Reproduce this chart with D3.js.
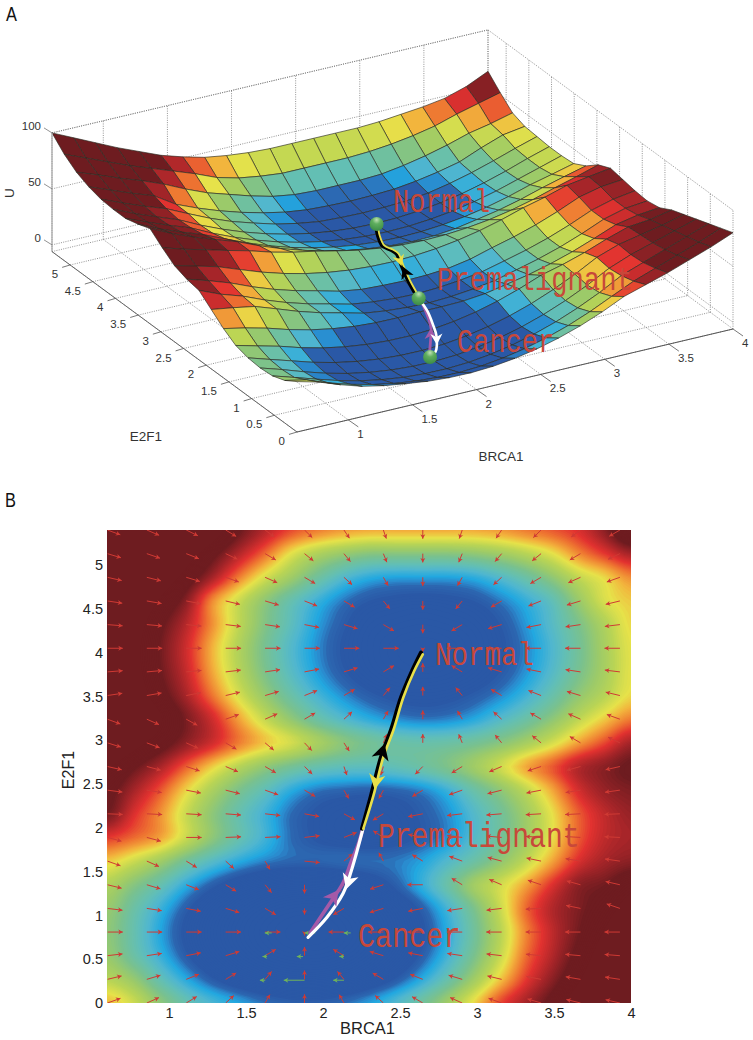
<!DOCTYPE html>
<html><head><meta charset="utf-8">
<script src="https://cdn.jsdelivr.net/npm/d3@7"></script>
<style>html,body{margin:0;padding:0;background:#fff}svg{display:block}text{font-family:"Liberation Sans",Arial,sans-serif}</style>
</head><body><svg id="c" width="753" height="1040" viewBox="0 0 753 1040"></svg>
<script>
// ---------- data ----------
const brca1Grid=[0.6,0.77,0.94,1.11,1.28,1.45,1.62,1.79,1.96,2.13,2.3,2.47,2.64,2.81,2.98,3.15,3.32,3.49,3.66,3.83,4];
const e2f1Grid=[0,0.27,0.54,0.81,1.08,1.35,1.62,1.89,2.16,2.43,2.7,2.97,3.24,3.51,3.78,4.05,4.32,4.59,4.86,5.13,5.4];
// U[row for e2f1Grid][column for brca1Grid]
const U=[
[39,34,27,21,17,14.2,11.7,10.4,10.2,11.3,13.8,17.6,22.7,29.1,36.9,46,52,58,65,72,80],
[32,27.8,20.6,14.7,9.9,6.3,3.8,2.5,2.3,3.4,5.9,9.7,14.8,21.2,29,38.1,47,54,61,68,76],
[28,22,15.9,10,5.2,1.6,-0.9,-2.2,-2.4,-1.3,1.2,5,10.1,16.5,24.3,33.4,43.9,51,58,65,72],
[27,21,14.4,8.5,3.7,0.1,-2.4,-3.7,-3.9,-2.8,-0.3,3.5,8.6,15,22.8,31.9,42.4,50,56,62,68],
[28,22,16.1,10.2,5.4,1.8,-0.7,-2,-2.2,-1.1,1.4,5.2,10.3,16.7,24.5,33.6,44.1,51,55,59,64],
[31,26,21.1,15.2,10.4,6.8,4.3,3,2.8,3.9,6.4,10.2,15.3,21.7,29.2,34.3,40.4,47.7,54,56,60],
[38,34,29.2,23.3,18.5,14.9,12.4,11.1,10.9,11.5,11.5,12,14,17.8,21.8,26.9,33,40.3,48,52,54],
[47,44,40.5,33.8,26.9,21.1,16.4,11.5,9,7.5,7,8,10,13,18,23.1,29.2,36.5,44.8,50,52],
[56,48,41.7,33.7,26.8,21,16.3,11.5,9,7.5,7,8,10,13,17.9,23,29.1,36.4,44.7,50,53],
[58,52,45.4,37.4,30.5,24.7,20,15,12,11,10.5,11,12.5,16,21.6,26.7,32.8,40.1,48.4,53,55],
[62,57,51.8,44.7,37.8,32,27.3,23.7,21.2,19.8,19.4,20.2,22,24.9,28.9,34,40.1,45,50.9,54,57],
[70,64,58.9,53.7,48.8,43,38.3,34.7,30.3,26.4,23.6,21.9,21.3,21.8,23.4,26,29.8,34.7,40.6,46,52],
[79,70,62.2,55.4,48.9,40.7,33.5,27.4,22,18,15,13,12,12.5,14.5,18.1,21.9,26.8,32.7,38,43],
[75,66,58.6,51.8,43.4,35.2,28,21.9,16.9,13,10.2,8.5,7.9,8.4,10,12.6,16.4,21.3,27.2,32,37],
[72,64,56.6,49.7,40.3,32.1,24.9,18.8,13.8,9.9,7.1,5.4,4.8,5.3,6.9,9.5,13.3,18.2,24.1,30,36],
[72,63.6,56.1,48.9,39.5,31.3,24.1,18,13,9.1,6.3,4.6,4,4.5,6.1,8.7,12.5,17.4,23.3,30,36],
[73,65,57.5,50.7,41.7,33,25.5,19.5,14,10,7,6,5.5,6,7,9.5,13.5,18.5,24.5,31,37],
[76,68.5,61,54.2,42,34,27,21,16,12,9.5,8.5,8,8.5,9.5,12,15.5,20,28,35,38],
[81,74,66.4,59.6,52,43,35,29,23,18,15,14,14,14,15,18,22,27,33,37,42],
[89,81,73,65,58,51,44,36,31,28,26,26,26,26,27,29,32,36,42,47,52],
[100,91,82,73,65,57,51,46,43,41,40,40,40,40,40,41,43,45,48,54,63]
];
const colorZ=[9,11,12.5,14,17,20,24,28,32,36,39,43,47,52,56];
const colorHex=["#2a58a6","#2c66b0","#2a8ccf","#22a8e0","#50b6cf","#63bfb4","#79c18f","#9bca6a","#b9d455","#e6e24a","#f2b53d","#ee7631","#e23230","#a02428","#6e1c20"];

const quiverX=[0.6,0.856,1.112,1.368,1.624,1.88,2.136,2.392,2.648,2.904,3.16,3.416,3.672,3.928];
const quiverY=[0,0.27,0.54,0.81,1.08,1.35,1.62,1.89,2.16,2.43,2.7,2.97,3.24,3.51,3.78,4.05,4.32,4.59,4.86,5.13,5.4];
// direction of each quiver arrow, degrees, one row for each quiverY
const quiverAngle=[
[32,38,47,58,72,90,108,122,134,142,148,152,156,158],
[23,28,35,47,65,90,115,134,145,152,157,161,163,165],
[12,15,19,28,46,90,134,152,161,165,168,170,171,172],
[0,0,0,0,0,-90,180,180,180,180,180,180,180,180],
[-12,-15,-19,-28,-46,-90,-134,-152,-161,-165,-168,-175,160,149],
[-23,-28,-35,-47,-65,-90,-115,-150,180,133,143,149,154,158],
[-32,-38,-47,-58,-72,-10,55,107,133,147,155,160,164,166],
[-25,-25,0,4,5,12,35,131,160,168,171,173,174,175],
[-4,-5,-6,-8,-11,-18,-44,-133,-161,-168,-172,-174,-175,-176],
[-13,-16,-19,-24,-32,-46,-72,-107,-133,-148,-156,-161,-164,-166],
[-22,-25,-30,-37,-46,-60,-79,-100,-119,-133,-143,-150,-154,-158],
[-29,-34,-39,-46,-56,-62,-70,77,90,103,115,125,134,140],
[-33,-38,-44,32,38,46,58,72,90,108,122,134,142,148],
[15,17,19,23,28,35,46,65,90,115,134,145,152,157],
[8,9,10,12,15,19,28,46,90,134,152,161,165,168],
[0,0,0,0,0,0,0,0,-90,180,180,180,180,180],
[-8,-9,-10,-12,-15,-19,-28,-46,-90,-134,-152,-161,-165,-168],
[-15,-17,-19,-23,-28,-35,-46,-65,-90,-115,-134,-145,-152,-157],
[-22,-24,-28,-32,-38,-46,-58,-72,-90,-108,-122,-134,-142,-148],
[-28,-31,-35,-40,-46,-55,-65,-77,-90,-103,-115,-125,-134,-140],
[-33,-37,-41,-47,-53,-60,-69,-79,-90,-101,-111,-120,-127,-134]
];
const greenArrowX=[1.667,1.95,2.18,1.87,1.637,2.136,1.625,1.88,2.136];
const greenArrowY=[0.8,0.8,0.8,0.53,0.53,0.53,0.26,0.26,0.26];
const greenArrowLen=[0.045,0.07,0.045,0.04,0.03,0.03,0.035,0.135,0.07];

// transition paths, map B
const blackX=[2.636,2.578,2.507,2.442,2.377,2.312,2.253], blackY=[4,3.79,3.49,3.12,2.81,2.37,1.99];
const yellowX=[2.648,2.592,2.522,2.458,2.392,2.328,2.262], yellowY=[3.98,3.79,3.49,3.12,2.81,2.37,1.99];
const whiteX=[2.26,2.214,2.175,2.13,2.026,1.903], whiteY=[1.99,1.69,1.46,1.25,0.98,0.75];
const purpleX=[2.255,2.23,2.18,2.13,2.045,1.916], purpleY=[1.97,1.82,1.6,1.37,1.14,0.8];
// heights of the same paths over the landscape A
const pathAX=[2.636,2.578,2.507,2.442,2.377,2.33,2.312,2.253], pathAY=[4,3.79,3.49,3.12,2.81,2.55,2.37,1.99], pathAZ=[5.3,2.5,4.4,13.6,21,17.6,11.8,9.4];
const whiteAX=[2.253,2.214,2.175,2.13,2.026,1.903], whiteAY=[1.99,1.69,1.46,1.25,0.98,0.75], whiteAZ=[9.4,8,4.3,1,-2.4,3.4];
const purpleAX=[2.253,2.23,2.13,2.045,1.916], purpleAY=[1.99,1.82,1.37,1.14,0.8], purpleAZ=[9.4,8,4.5,3,5];
const ballX=[2.636,2.253,1.903], ballY=[4,1.99,0.75], ballZ=[5.3,9.4,3.4];

const xTicks3D=[1,1.5,2,2.5,3,3.5,4], yTicks3D=[0,0.5,1,1.5,2,2.5,3,3.5,4,4.5,5], zTicks3D=[0,50,100];
const xTicksMap=[1,1.5,2,2.5,3,3.5,4], yTicksMap=[0,0.5,1,1.5,2,2.5,3,3.5,4,4.5,5];
const stateNames=["Normal","Premalignant","Cancer"];

// ---------- scales ----------
const svg=d3.select("#c");
const defs=svg.append("defs");
const color=d3.scaleLinear().domain(colorZ).range(colorHex).clamp(true);
const pxX=d3.scaleLinear().domain([0.6,4]).range([0,436]);
const pyX=d3.scaleLinear().domain([0.6,4]).range([0,-103]);
const pxY=d3.scaleLinear().domain([0,5.4]).range([0,-245]);
const pyY=d3.scaleLinear().domain([0,5.4]).range([0,-180.4]);
const pyZ=d3.scaleLinear().domain([-6,100]).range([0,-118.7]);
const P=(x,y,z)=>[297+pxX(x)+pxY(y),432+pyX(x)+pyY(y)+pyZ(z)];
const xMap=d3.scaleLinear().domain([0.6,4]).range([107.4,631]);
const yMap=d3.scaleLinear().domain([0,5.4]).range([1003,530]);

// ---------- panel A ----------
const gA=svg.append("g");
const dotted=(a,b)=>gA.append("line").attr("x1",a[0]).attr("y1",a[1]).attr("x2",b[0]).attr("y2",b[1])
  .attr("stroke","#777").attr("stroke-width",0.8).attr("stroke-dasharray","1 1.3");
const zLo=-6,zHi=100,xL=0.6,xH=4,yL=0,yH=5.4;
// walls + floor
xTicks3D.concat([xL]).forEach(x=>{dotted(P(x,yH,zLo),P(x,yH,zHi));dotted(P(x,yL,zLo),P(x,yH,zLo));});
yTicks3D.concat([yH]).forEach(y=>{dotted(P(xH,y,zLo),P(xH,y,zHi));dotted(P(xL,y,zLo),P(xH,y,zLo));});
zTicks3D.forEach(z=>{dotted(P(xL,yH,z),P(xH,yH,z));dotted(P(xH,yH,z),P(xH,yL,z));});
dotted(P(xL,yH,zHi),P(xH,yH,zHi));
// surface, painted from the far corner to the near corner
const polyLine=d3.line();
const surf=gA.append("g");
for(let i=brca1Grid.length-2;i>=0;i--)for(let j=e2f1Grid.length-2;j>=0;j--){
  const c=[[i,j],[i+1,j],[i+1,j+1],[i,j+1]];
  const m=d3.mean(c,d=>U[d[1]][d[0]]);
  surf.append("path").attr("d",polyLine(c.map(d=>P(brca1Grid[d[0]],e2f1Grid[d[1]],U[d[1]][d[0]])))+"Z")
    .attr("fill",color(m)).attr("stroke","#2b2b22").attr("stroke-width",0.65).attr("stroke-linejoin","round");
}
// axis lines
const axisLine=(a,b,col,w)=>gA.append("line").attr("x1",a[0]).attr("y1",a[1]).attr("x2",b[0]).attr("y2",b[1]).attr("stroke",col).attr("stroke-width",w);
axisLine(P(xL,yH,zLo),P(xL,yH,zHi),"#aaa",1.3);
axisLine(P(xL,yL,zLo),P(xL,yH,zLo),"#666",1);
axisLine(P(xL,yL,zLo),P(xH,yL,zLo),"#555",1);
const tickTxt=(x,y,s,anch)=>gA.append("text").attr("x",x).attr("y",y).attr("text-anchor",anch).attr("dominant-baseline","middle").attr("font-size",11.5).attr("fill","#333").text(s);
zTicks3D.forEach(z=>{const p=P(xL,yH,z);axisLine(p,[p[0]-8,p[1]-5],"#777",0.8);tickTxt(p[0]-11,p[1]-6,z,"end");});
yTicks3D.forEach(y=>{const p=P(xL,y,zLo);axisLine(p,[p[0]-8,p[1]+2.4],"#555",0.8);tickTxt(p[0]-12,p[1]+10,y,"end");});
xTicks3D.forEach(x=>{const p=P(x,yL,zLo);axisLine(p,[p[0]+10,p[1]+7],"#555",0.8);tickTxt(p[0]+9,p[1]+15,x,"start");});
gA.append("text").attr("x",146).attr("y",437).attr("text-anchor","middle").attr("dominant-baseline","middle").attr("font-size",13.5).attr("fill","#333").text("E2F1");
gA.append("text").attr("x",501).attr("y",457).attr("text-anchor","middle").attr("dominant-baseline","middle").attr("font-size",13.5).attr("fill","#333").text("BRCA1");
gA.append("text").attr("transform","translate(10,193) rotate(-90)").attr("text-anchor","middle").attr("dominant-baseline","middle").attr("font-size",13.5).attr("fill","#333").text("U");

const curve=d3.line().curve(d3.curveCatmullRom.alpha(0.5));
const drawPath=(g,pts,col,w)=>g.append("path").attr("d",curve(pts)).attr("fill","none").attr("stroke",col).attr("stroke-width",w).attr("stroke-linecap","round");
const head=(g,a,b,col,size)=>{ // tip at b, coming from a
  const ang=Math.atan2(b[1]-a[1],b[0]-a[0])*180/Math.PI;
  g.append("path").attr("transform",`translate(${b[0]},${b[1]}) rotate(${ang}) scale(${size})`)
   .attr("d","M0,0L-1,-0.55L-0.72,0L-1,0.55Z").attr("fill",col);
};
const zip3=(X,Y,Z)=>X.map((x,i)=>P(x,Y[i],Z[i]));
const pA=zip3(pathAX,pathAY,pathAZ);
drawPath(gA,pA.map(p=>[p[0]-1,p[1]]),"#000",3.2);
drawPath(gA,pA.map(p=>[p[0]+1,p[1]-0.5]),"#e8e04a",1.8);
head(gA,P(2.312,2.37,11.8),P(2.345,2.6,17),"#000",12);
head(gA,P(2.38,2.81,21),P(2.36,2.67,15),"#e8e04a",11);
drawPath(gA,zip3(purpleAX,purpleAY,purpleAZ),"#a45aa8",2.8);
drawPath(gA,zip3(whiteAX,whiteAY,whiteAZ),"#fff",2.6);
head(gA,P(2.045,1.14,3),P(2.13,1.37,4.5),"#a45aa8",11);
head(gA,P(2.13,1.25,1),P(2.08,1.1,-1),"#fff",11);
const ballGrad=defs.append("radialGradient").attr("id","ball").attr("cx","0.5").attr("cy","0.2").attr("r","0.75");
ballGrad.append("stop").attr("offset","0").attr("stop-color","#bfe0b4");
ballGrad.append("stop").attr("offset","0.4").attr("stop-color","#5fae5e");
ballGrad.append("stop").attr("offset","1").attr("stop-color","#3f8f48");
gA.selectAll("circle.ball").data(ballX).enter().append("circle").attr("class","ball")
  .attr("cx",(d,i)=>P(d,ballY[i],ballZ[i])[0]).attr("cy",(d,i)=>P(d,ballY[i],ballZ[i])[1]).attr("r",7).attr("fill","url(#ball)");

const stateText=(s,x,base,size)=>svg.append("text").attr("transform",`translate(${x},${base}) scale(1,1.22)`)
  .style("font-family",'"Liberation Mono",monospace').attr("font-size",size).attr("fill","#c8483a").text(s);
stateText(stateNames[0],393,212,27);
stateText(stateNames[1],437,290,27.2);
stateText(stateNames[2],457,352,27);

// ---------- panel B ----------
const gB=svg.append("g");
defs.append("clipPath").attr("id","mapClip").append("rect").attr("x",xMap(0.6)).attr("y",yMap(5.4)).attr("width",xMap(4)-xMap(0.6)).attr("height",yMap(0)-yMap(5.4));
// refine the table for drawing smooth filled contours
const up=4,nx=brca1Grid.length,ny=e2f1Grid.length,fx=(nx-1)*up+1,fy=(ny-1)*up+1;
const cr=(a,b,c,d,t)=>0.5*((2*b)+(-a+c)*t+(2*a-5*b+4*c-d)*t*t+(-a+3*b-3*c+d)*t*t*t);
const cl=(v,n)=>Math.max(0,Math.min(n-1,v));
const fine=new Float64Array(fx*fy);
for(let b=0;b<fy;b++){const j=Math.min(ny-2,Math.floor(b/up)),tb=b/up-j;
  for(let a=0;a<fx;a++){const i=Math.min(nx-2,Math.floor(a/up)),ta=a/up-i;
    const col=k=>{const r=U[cl(k,ny)];return cr(r[cl(i-1,nx)],r[i],r[i+1],r[cl(i+2,nx)],ta);};
    fine[b*fx+a]=cr(col(j-1),col(j),col(j+1),col(j+2),tb);
  }}
const thr=d3.range(-6,62,0.5);
const contours=d3.contours().size([fx,fy]).thresholds(thr)(fine);
const mapPath=d3.geoPath(d3.geoTransform({point(a,b){
  this.stream.point(xMap(0.6+(a-0.5)/up*0.17),yMap((b-0.5)/up*0.27));}}));
const heat=gB.append("g").attr("clip-path","url(#mapClip)");
heat.append("rect").attr("x",100).attr("y",520).attr("width",540).attr("height",490).attr("fill",color(-6));
heat.selectAll("path").data(contours).enter().append("path").attr("d",mapPath).attr("fill",d=>color(d.value));

// quiver
const arrow=(g,x,y,dx,dy,col)=>{
  const a=[xMap(x),yMap(y)],b=[xMap(x+dx),yMap(y+dy)];
  g.append("line").attr("x1",a[0]).attr("y1",a[1]).attr("x2",b[0]).attr("y2",b[1]).attr("stroke",col).attr("stroke-width",1);
  head(g,a,b,col,4.5);
};
const gQ=gB.append("g").attr("clip-path","url(#mapClip)");
quiverY.forEach((y,j)=>quiverX.forEach((x,k)=>{
  const t=quiverAngle[j][k]*Math.PI/180;
  const small=(k===5&&j===3)||(k===8&&j===15);
  const r=small?0.04:(k===5&&j===4?0.07:0.1);
  arrow(gQ,x,y,r*Math.cos(t),r*Math.sin(t),"#cf3a34");
}));
greenArrowX.forEach((x,i)=>arrow(gQ,x,greenArrowY[i],-greenArrowLen[i],0,"#6fb35a"));

const zipM=(X,Y)=>X.map((x,i)=>[xMap(x),yMap(Y[i])]);
drawPath(gB,zipM(purpleX,purpleY),"#a45aa8",3.6);
drawPath(gB,zipM(whiteX,whiteY),"#fff",3.2);
drawPath(gB,zipM(blackX,blackY),"#000",4);
drawPath(gB,zipM(yellowX,yellowY),"#e8e04a",2.6);
head(gB,[xMap(2.36),yMap(2.72)],[xMap(2.4),yMap(2.96)],"#000",16);
head(gB,[xMap(2.36),yMap(2.68)],[xMap(2.335),yMap(2.44)],"#e8e04a",15);
head(gB,[xMap(2.03),yMap(1.12)],[xMap(2.1),yMap(1.29)],"#a45aa8",15);
head(gB,[xMap(2.195),yMap(1.55)],[xMap(2.15),yMap(1.3)],"#fff",15);

stateText(stateNames[0],435,665,27.5);
stateText(stateNames[1],378,847,28);
stateText(stateNames[2],358,947,28.5);

// axes
const axB=d3.axisBottom(xMap).tickValues(xTicksMap).tickSize(0).tickPadding(5).tickFormat(d=>d);
const axL=d3.axisLeft(yMap).tickValues(yTicksMap).tickSize(0).tickPadding(4).tickFormat(d=>d);
const gx=gB.append("g").attr("transform","translate(0,1003)").call(axB);
const gy=gB.append("g").attr("transform","translate(107,0)").call(axL);
[gx,gy].forEach(g=>{g.select(".domain").remove();g.selectAll("text").attr("font-size",14.5).attr("fill","#222").style("font-family",'"Liberation Sans",Arial,sans-serif');});
gB.append("text").attr("x",367.5).attr("y",1030).attr("text-anchor","middle").attr("dominant-baseline","middle").attr("font-size",16.5).attr("fill","#222").text("BRCA1");
gB.append("text").attr("transform","translate(70,770) rotate(-90)").attr("text-anchor","middle").attr("dominant-baseline","middle").attr("font-size",16).attr("fill","#222").text("E2F1");

const letter=(s,x,y)=>svg.append("text").attr("transform",`translate(${x},${y}) scale(0.78,1)`).style("font-family",'"Liberation Sans",sans-serif').attr("font-size",21).attr("fill","#111").text(s);
letter("A",6,21);
letter("B",5,507);
</script></body></html>
